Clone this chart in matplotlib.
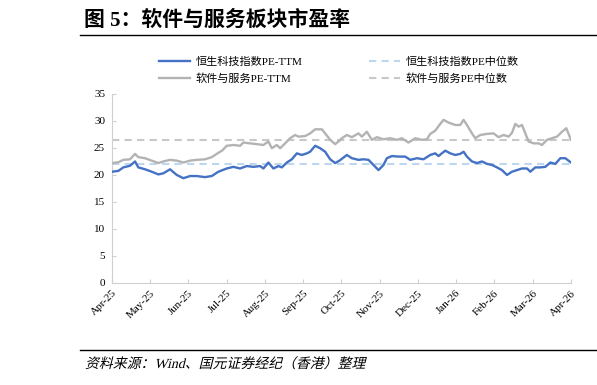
import numpy as np
import matplotlib
matplotlib.use("Agg")
import matplotlib.pyplot as plt
from matplotlib.textpath import TextPath
from matplotlib.patches import PathPatch
from matplotlib.font_manager import FontProperties
from matplotlib.transforms import Affine2D

plt.rcParams['font.family'] = ['Liberation Serif', 'Noto Sans CJK SC', 'DejaVu Sans']

# x values are months since Apr-25 (0 = Apr-25, 12 = Apr-26)
month_labels = ["Apr-25", "May-25", "Jun-25", "Jul-25", "Aug-25", "Sep-25", "Oct-25",
                "Nov-25", "Dec-25", "Jan-26", "Feb-26", "Mar-26", "Apr-26"]

# 恒生科技指数PE-TTM
hstech_x = [0.0, 0.165, 0.296, 0.471, 0.602, 0.688, 0.863, 1.039, 1.211, 1.342, 1.518, 1.693,
            1.866, 2.041, 2.216, 2.433, 2.609, 2.781, 3.001, 3.174, 3.349, 3.524, 3.697, 3.872,
            3.959, 4.089, 4.220, 4.351, 4.440, 4.571, 4.702, 4.833, 4.963, 5.094, 5.181, 5.311,
            5.442, 5.573, 5.704, 5.835, 5.947, 6.141, 6.272, 6.444, 6.575, 6.706, 6.837, 6.968,
            7.098, 7.187, 7.318, 7.491, 7.666, 7.797, 7.972, 8.145, 8.320, 8.451, 8.537, 8.713,
            8.844, 8.974, 9.105, 9.192, 9.280, 9.411, 9.542, 9.673, 9.804, 9.935, 10.065, 10.196,
            10.327, 10.458, 10.589, 10.719, 10.850, 10.937, 11.067, 11.198, 11.329, 11.460,
            11.591, 11.722, 11.852, 12.0]
hstech_pe = [20.6, 20.75, 21.4, 21.7, 22.5, 21.4, 21.05, 20.6, 20.1, 20.3, 21.05, 20.0,
             19.4, 19.8, 19.8, 19.6, 19.8, 20.6, 21.2, 21.5, 21.2, 21.65, 21.5, 21.65,
             21.2, 22.3, 21.2, 21.65, 21.4, 22.3, 22.9, 24.0, 23.7, 24.0, 24.3, 25.4,
             24.95, 24.3, 22.9, 22.2, 22.65, 23.7, 23.1, 22.8, 22.9, 22.8, 21.85, 20.9,
             21.85, 23.1, 23.5, 23.4, 23.4, 22.8, 23.1, 22.9, 23.7, 24.0, 23.5, 24.5,
             24.0, 23.7, 23.9, 24.3, 23.4, 22.5, 22.2, 22.5, 22.05, 21.85, 21.4, 20.9,
             20.0, 20.6, 20.9, 21.2, 21.2, 20.6, 21.4, 21.4, 21.5, 22.3,
             22.05, 23.1, 23.1, 22.3]

# 软件与服务PE-TTM
software_x = [0.0, 0.165, 0.296, 0.471, 0.602, 0.688, 0.863, 1.039, 1.211, 1.342, 1.518, 1.693,
              1.866, 2.041, 2.216, 2.433, 2.609, 2.781, 2.878, 3.001, 3.174, 3.349, 3.435, 3.611,
              3.786, 3.959, 4.089, 4.178, 4.309, 4.396, 4.526, 4.657, 4.788, 4.874, 5.050, 5.181,
              5.311, 5.487, 5.573, 5.704, 5.835, 5.947, 6.010, 6.141, 6.272, 6.444, 6.533, 6.664,
              6.795, 6.926, 7.098, 7.274, 7.449, 7.580, 7.752, 7.928, 8.103, 8.234, 8.320, 8.451,
              8.582, 8.668, 8.799, 8.974, 9.105, 9.192, 9.280, 9.411, 9.497, 9.628, 9.804, 9.976,
              10.107, 10.238, 10.369, 10.458, 10.544, 10.630, 10.719, 10.806, 10.892, 11.023,
              11.154, 11.243, 11.373, 11.504, 11.635, 11.766, 11.878, 12.0]
software_pe = [22.2, 22.35, 22.8, 22.9, 23.9, 23.3, 23.1, 22.65, 22.2, 22.5, 22.8, 22.65,
               22.3, 22.65, 22.8, 22.9, 23.3, 24.1, 24.5, 25.4, 25.55, 25.4, 26.0, 25.85,
               25.7, 25.55, 26.2, 24.95, 25.55, 24.95, 25.85, 26.8, 27.4, 27.1, 27.2, 27.7,
               28.45, 28.45, 27.7, 26.5, 25.7, 26.35, 26.8, 27.4, 27.0, 27.7, 27.1, 28.0,
               26.5, 27.0, 26.6, 26.8, 26.5, 26.8, 26.0, 26.8, 26.5, 26.6, 27.6, 28.2,
               29.45, 30.2, 29.7, 29.25, 29.25, 30.2, 29.25, 27.7, 26.8, 27.4, 27.6, 27.7,
               27.0, 27.4, 27.1, 27.8, 29.45, 28.95, 29.25, 27.7, 26.2, 25.85,
               25.85, 25.55, 26.5, 26.8, 27.1, 28.0, 28.65, 26.5]

hstech_median = 22.0
software_median = 26.4

fig = plt.figure(figsize=(5.97, 3.85), dpi=100)
ax = fig.add_axes([0.1876, 0.265, 0.7688, 0.491])

ax.plot(hstech_x, hstech_pe, color='#4472c4', lw=1.7, label='恒生科技指数PE-TTM', zorder=4)
ax.plot(software_x, software_pe, color='#b3b3b3', lw=1.7, label='软件与服务PE-TTM', zorder=3)
ax.plot([0, 12], [hstech_median] * 2, color='#bdd7ee', lw=1.5, ls=(0, (3.5, 2.5)),
        label='恒生科技指数PE中位数', zorder=2)
ax.plot([0, 12], [software_median] * 2, color='#c8c8c8', lw=1.5, ls=(0, (3.5, 2.5)),
        label='软件与服务PE中位数', zorder=2)

ax.set_xlim(0, 12)
ax.set_ylim(0, 35)
ax.set_yticks(np.arange(0, 36, 5))
ax.set_xticks(range(len(month_labels)))
ax.set_xticklabels(month_labels, rotation=45, ha='right', rotation_mode='anchor')

for side in ['top', 'right']:
    ax.spines[side].set_visible(False)
for side in ['left', 'bottom']:
    ax.spines[side].set_color('#d0d0d0')
    ax.spines[side].set_linewidth(0.8)
ax.tick_params(direction='in', length=3, width=0.8, color='#d0d0d0', labelsize=8, pad=5)
ax.tick_params(axis='x', pad=4)

handles, labels = ax.get_legend_handles_labels()
fig.legend(handles, labels, ncol=2,
           loc='center', bbox_to_anchor=(0.568, 0.817), frameon=False, fontsize=8,
           handlelength=2.8, handletextpad=0.5, columnspacing=6.0, labelspacing=0.6)

# title and source
fig.text(84 / 597, 1 - 21 / 385, '图 5：软件与服务板块市盈率', fontsize=15, fontweight='bold',
         va='center', ha='left')
fig.add_artist(plt.Line2D([80 / 597, 1.0], [1 - 34.5 / 385] * 2, color='black', lw=1.0))
fig.add_artist(plt.Line2D([80 / 597, 1.0], [1 - 349.5 / 385] * 2, color='black', lw=1.0))

# source note, slanted like the italic original (CJK fonts have no italic face)
src_prop = FontProperties(family=['Liberation Serif', 'Noto Sans CJK SC'])
src_path = TextPath((0, 0), '资料来源：Wind、国元证券经纪（香港）整理', size=10 * 100 / 72,
                    prop=src_prop)
src_patch = PathPatch(src_path, facecolor='black', edgecolor='none',
                      transform=Affine2D().skew_deg(14, 0).translate(85, 385 - 368))
fig.add_artist(src_patch)

fig.savefig('out.png', dpi=100)
